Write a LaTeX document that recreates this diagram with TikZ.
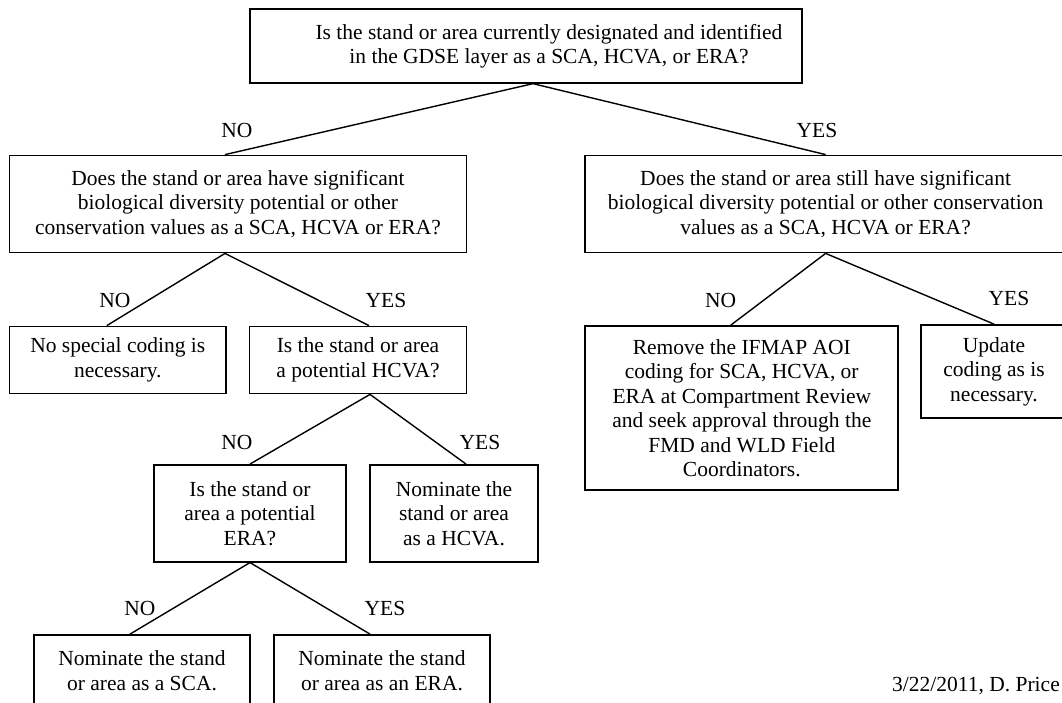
\documentclass[tikz,border=0pt]{standalone}
\usepackage{fontspec}
\setmainfont{Liberation Serif}

\begin{document}
\begin{tikzpicture}[x=1pt,y=-1pt,
  box/.style={draw,line width=1.8pt,align=center,inner sep=0pt,font=\fontsize{21.5}{24.5}\selectfont},
  ans/.style={font=\fontsize{21.5}{24.5}\selectfont},
  branch/.style={line width=1.4pt}]
\clip (0,0) rectangle (1062,702);

\node[box,minimum width=552,minimum height=73.5] (q1) at (526,46) {};
\node[ans,align=center] (q1text) at ([xshift=23pt]q1.center) {Is the stand or area currently designated and identified\\in the GDSE layer as a SCA, HCVA, or ERA?};

\node[box,minimum width=457,minimum height=97] (q2) at (238,204) {Does the stand or area have significant\\biological diversity potential or other\\conservation values as a SCA, HCVA or ERA?};
\node[box,minimum width=481,minimum height=97] (q3) at (825.6,204) {Does the stand or area still have significant\\biological diversity potential or other conservation\\values as a SCA, HCVA or ERA?};

\node[box,minimum width=216.5,minimum height=67] (q4) at (117.8,360) {No special coding is\\necessary.};
\node[box,minimum width=217,minimum height=67] (q5) at (358,360) {Is the stand or area\\a potential HCVA?};
\node[box,minimum width=192,minimum height=96.7] (q6) at (250,513.3) {Is the stand or\\area a potential\\ERA?};
\node[box,minimum width=168.5,minimum height=96.7] (q7) at (454,513.3) {Nominate the\\stand or area\\as a HCVA.};
\node[box,minimum width=216,minimum height=71] (q8) at (142,670.5) {Nominate the stand\\or area as a SCA.};
\node[box,minimum width=216,minimum height=71] (q9) at (382,670.5) {Nominate the stand\\or area as an ERA.};

\node[box,minimum width=313,minimum height=164] (q10) at (741.8,408) {Remove the IFMAP AOI\\coding for SCA, HCVA, or\\ERA at Compartment Review\\and seek approval through the\\FMD and WLD Field\\Coordinators.};
\node[box,minimum width=146,minimum height=93] (q11) at (994,371.5) {Update\\coding as is\\necessary.};

\node[ans] (no1) at (237,130) {NO};
\node[ans] (yes1) at (817,130) {YES};
\node[ans] (no2) at (115,300) {NO};
\node[ans] (yes2) at (386,300) {YES};
\node[ans] (no3) at (237,442) {NO};
\node[ans] (yes3) at (480,442) {YES};
\node[ans] (no4) at (140,608) {NO};
\node[ans] (yes4) at (385,608) {YES};
\node[ans] (no5) at (720.6,300) {NO};
\node[ans] (yes5) at (1009,298) {YES};

\node[ans] (date) at (976,686) {3/22/2011, D. Price};

\draw[branch] ([xshift=7pt]q1.south) -- ([xshift=-13pt]q2.north);
\draw[branch] ([xshift=7pt]q1.south) -- (q3.north);
\draw[branch] ([xshift=-13pt]q2.south) -- ([xshift=-11pt]q4.north);
\draw[branch] ([xshift=-13pt]q2.south) -- ([xshift=11pt]q5.north);
\draw[branch] ([xshift=12pt]q5.south) -- (q6.north);
\draw[branch] ([xshift=12pt]q5.south) -- ([xshift=12pt]q7.north);
\draw[branch] (q6.south) -- ([xshift=-12pt]q8.north);
\draw[branch] (q6.south) -- ([xshift=-12pt]q9.north);
\draw[branch] (q3.south) -- ([xshift=-11pt]q10.north);
\draw[branch] (q3.south) -- (q11.north);
\end{tikzpicture}
\end{document}
